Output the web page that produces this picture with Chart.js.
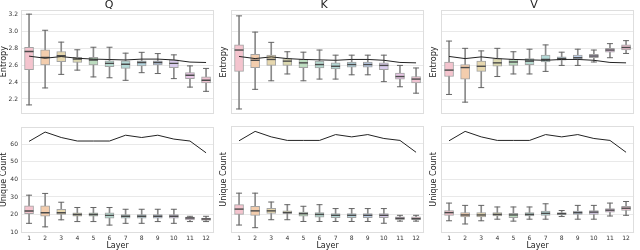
<!DOCTYPE html>
<html>
<head>
<meta charset="utf-8">
<script src="https://cdn.jsdelivr.net/npm/chart.js@4.4.0/dist/chart.umd.min.js"></script>
<style>
body { margin: 0; background: #fff; width: 640px; height: 250px; overflow: hidden; position: relative; }
canvas { position: absolute; }
</style>
</head>
<body>
<canvas id="qTop" width="220" height="120" style="left:0;top:0"></canvas>
<canvas id="kTop" width="220" height="120" style="left:210px;top:0"></canvas>
<canvas id="vTop" width="220" height="120" style="left:420px;top:0"></canvas>
<canvas id="qBot" width="220" height="130" style="left:0;top:120px"></canvas>
<canvas id="kBot" width="220" height="130" style="left:210px;top:120px"></canvas>
<canvas id="vBot" width="220" height="130" style="left:420px;top:120px"></canvas>
<script>
'use strict';
// layers on the x axis
const layers = ['1', '2', '3', '4', '5', '6', '7', '8', '9', '10', '11', '12'];
const entropyTicks = [2.2, 2.4, 2.6, 2.8, 3.0, 3.2];
const countTicks = [10, 20, 30, 40, 50, 60];

// boxes per layer: [min, q1, median, q3, max]
const qEntropy = [
  [2.13, 2.545, 2.76, 2.81, 3.20], [2.33, 2.60, 2.69, 2.78, 3.01], [2.49, 2.64, 2.71, 2.76, 2.87],
  [2.54, 2.63, 2.67, 2.69, 2.78], [2.46, 2.60, 2.66, 2.69, 2.81], [2.45, 2.58, 2.62, 2.65, 2.81],
  [2.42, 2.56, 2.61, 2.65, 2.74], [2.51, 2.59, 2.63, 2.65, 2.75], [2.50, 2.60, 2.63, 2.65, 2.735],
  [2.44, 2.57, 2.62, 2.66, 2.72], [2.34, 2.44, 2.48, 2.51, 2.59], [2.29, 2.39, 2.42, 2.46, 2.56]
];
const kEntropy = [
  [2.09, 2.53, 2.78, 2.84, 3.18], [2.32, 2.575, 2.66, 2.73, 2.99], [2.42, 2.60, 2.67, 2.72, 2.87],
  [2.50, 2.60, 2.65, 2.68, 2.76], [2.42, 2.575, 2.63, 2.67, 2.755], [2.44, 2.57, 2.61, 2.65, 2.78],
  [2.44, 2.56, 2.59, 2.63, 2.72], [2.49, 2.58, 2.61, 2.64, 2.72], [2.49, 2.58, 2.61, 2.64, 2.72],
  [2.41, 2.55, 2.60, 2.63, 2.72], [2.35, 2.44, 2.47, 2.51, 2.60], [2.275, 2.395, 2.44, 2.47, 2.57]
];
const vEntropy = [
  [2.26, 2.47, 2.545, 2.64, 2.885], [2.17, 2.44, 2.575, 2.61, 2.80], [2.34, 2.53, 2.59, 2.65, 2.77],
  [2.47, 2.59, 2.63, 2.68, 2.80], [2.50, 2.60, 2.64, 2.67, 2.76], [2.50, 2.61, 2.65, 2.68, 2.79],
  [2.53, 2.64, 2.67, 2.72, 2.84], [2.60, 2.66, 2.68, 2.70, 2.755], [2.60, 2.67, 2.69, 2.72, 2.79],
  [2.64, 2.69, 2.71, 2.73, 2.78], [2.69, 2.755, 2.78, 2.80, 2.855], [2.74, 2.78, 2.81, 2.84, 2.89]
];
const qCount = [
  [15, 20.5, 22, 25, 31], [13, 19, 21, 25, 32], [17, 20, 21, 23, 27], [16, 19, 20, 21, 24],
  [16, 19, 20, 21, 24], [14, 18, 19.5, 21, 24], [15, 18, 19, 20, 23], [15, 18, 19, 20, 23],
  [16, 18, 19, 20, 23], [15, 18, 19, 20, 23], [16, 17, 18, 18.5, 19], [16, 16.7, 17.5, 18, 19]
];
const kCount = [
  [14, 20, 23, 25.5, 32], [12.5, 19.5, 22, 24.5, 32], [17, 20.5, 22, 23.5, 27], [17, 20.5, 21, 22, 25.5],
  [16, 19, 20.4, 21.3, 24.6], [16, 18.5, 20, 21, 25.5], [16, 18.2, 19.5, 20.4, 23.3], [16, 18.2, 19.5, 20.4, 23.3],
  [16, 18.2, 19.5, 20.4, 23.3], [15, 18.2, 19.5, 20.5, 23.3], [16.2, 17.1, 17.8, 18.6, 19.5], [16.2, 17, 17.6, 18.6, 19.5]
];
const vCount = [
  [16.4, 19.5, 21, 22.2, 26.4], [14.6, 18.6, 19.7, 21, 25.1], [16.4, 18.6, 19.7, 21, 25.1], [17.3, 19.1, 20, 21, 24.2],
  [16.2, 18.2, 19.7, 20.6, 24.2], [17.3, 19.1, 20, 21, 24.2], [17.3, 19.5, 20.6, 21.9, 26], [18.8, 19.7, 20.4, 21, 22.2],
  [17.3, 20, 21, 21.9, 25.1], [17.3, 20, 21.3, 22.2, 25.1], [19.1, 21.3, 22.4, 23.3, 26.4], [19.5, 22.2, 23.5, 24.6, 27.3]
];
// black line drawn over the boxes
const entropyLine = [2.705, 2.68, 2.70, 2.68, 2.67, 2.665, 2.66, 2.67, 2.67, 2.66, 2.635, 2.63];
const countLine = [61.6, 66.9, 63.8, 61.8, 61.8, 61.8, 65.1, 63.8, 65.1, 62.9, 61.8, 55.1];

const boxColors = ['#f4c4ce', '#f3cdad', '#e6d7ae', '#dcd9b0', '#bcdcbf', '#b5d9cf',
  '#b4d9d7', '#b5d6e0', '#bdd0ea', '#d8cbec', '#e8c6e6', '#f0c3d2'];

Chart.defaults.font.family = 'DejaVu Sans';
Chart.defaults.color = '#333';

const frame = {
  id: 'frame',
  beforeDatasetsDraw(chart) {
    const a = chart.chartArea;
    const ctx = chart.ctx;
    ctx.save();
    ctx.strokeStyle = '#dedede';
    ctx.lineWidth = 1;
    ctx.strokeRect(Math.round(a.left) + 0.5, Math.round(a.top) + 0.5, Math.round(a.width) - 1, Math.round(a.height) - 1);
    ctx.restore();
  }
};

function makePanel(id, boxes, line, o) {
  const lineSet = { type: 'line', data: line, borderColor: '#222', borderWidth: 1, pointRadius: 0, order: 0 };
  new Chart(document.getElementById(id), {
    type: 'bar',
    data: {
      labels: layers,
      datasets: [
        lineSet,
        { type: 'line', data: boxes.map(b => b[2]), showLine: false, pointStyle: 'line', pointRadius: 4.5,
          pointBorderColor: '#4a4a4a', pointBorderWidth: 1.4, order: 1 },
        { data: boxes.map(b => [b[1], b[3]]), backgroundColor: boxColors, borderColor: '#a3a3a3', borderWidth: 1,
          borderSkipped: false, barThickness: 9, grouped: false, order: 2 },
        { type: 'line', data: boxes.map(b => b[4]), showLine: false, pointStyle: 'line', pointRadius: 3,
          pointBorderColor: '#666', pointBorderWidth: 1, order: 3 },
        { type: 'line', data: boxes.map(b => b[0]), showLine: false, pointStyle: 'line', pointRadius: 3,
          pointBorderColor: '#666', pointBorderWidth: 1, order: 3 },
        { data: boxes.map(b => [b[0], b[4]]), backgroundColor: '#8a8a8a', barThickness: 1, grouped: false, order: 4 }
      ]
    },
    options: {
      responsive: false,
      animation: false,
      events: [],
      layout: { padding: { left: o.showY ? 0 : 10, right: 2, top: o.title ? 0 : 2, bottom: 0 } },
      plugins: {
        legend: { display: false },
        tooltip: { enabled: false },
        title: { display: !!o.title, text: o.title, color: '#222', font: { size: 11, weight: 'normal', lineHeight: 0.9 },
          padding: { top: 0, bottom: 0 } }
      },
      scales: {
        x: {
          grid: { display: false },
          border: { display: false },
          ticks: { display: o.bottom, font: { size: 6, lineHeight: 1 }, padding: -6, maxRotation: 0, autoSkip: false },
          title: { display: o.bottom, text: 'Layer', color: '#222', font: { size: 8, lineHeight: 1 }, padding: 0 },
          afterFit(s) { s.height = o.bottom ? 17 : 2; }
        },
        y: {
          min: o.min,
          max: o.max,
          grid: { color: '#e9e9e9', drawTicks: false },
          border: { display: false },
          ticks: { display: o.showY, font: { size: 6 }, padding: 3,
            callback: v => o.fixed ? v.toFixed(1) : String(v) },
          afterBuildTicks(s) { s.ticks = o.ticks.map(v => ({ value: v })); },
          title: { display: true, text: o.yTitle, color: '#222', font: { size: 8, lineHeight: 1.1 }, padding: 0 },
          afterFit(s) { s.width = o.showY ? 21 : 11; }
        }
      }
    },
    plugins: [frame]
  });
}

const topOpts = { min: 2.03, max: 3.25, ticks: entropyTicks, fixed: true, yTitle: 'Entropy', bottom: false };
const botOpts = { min: 9.5, max: 70, ticks: countTicks, fixed: false, yTitle: 'Unique Count', bottom: true };

makePanel('qTop', qEntropy, entropyLine, Object.assign({}, topOpts, { title: 'Q', showY: true }));
makePanel('kTop', kEntropy, entropyLine, Object.assign({}, topOpts, { title: 'K', showY: false }));
makePanel('vTop', vEntropy, entropyLine, Object.assign({}, topOpts, { title: 'V', showY: false }));
makePanel('qBot', qCount, countLine, Object.assign({}, botOpts, { showY: true }));
makePanel('kBot', kCount, countLine, Object.assign({}, botOpts, { showY: false }));
makePanel('vBot', vCount, countLine, Object.assign({}, botOpts, { showY: false }));
</script>
</body>
</html>
